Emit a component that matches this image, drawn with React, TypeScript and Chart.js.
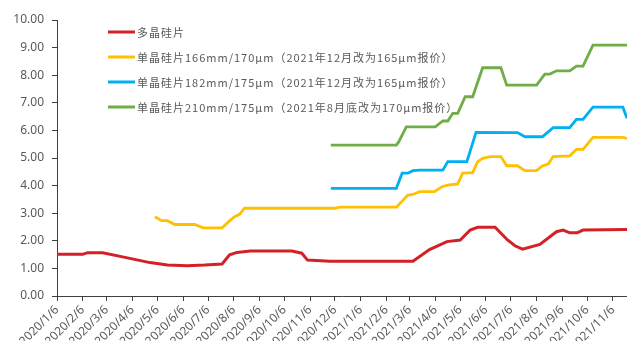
import { useEffect, useRef } from 'react';
import { Chart, registerables } from 'chart.js';

Chart.register(...registerables);

// Monthly tick labels on the date axis
const tickLabels = [
  '2020/1/6', '2020/2/6', '2020/3/6', '2020/4/6', '2020/5/6', '2020/6/6', '2020/7/6', '2020/8/6',
  '2020/9/6', '2020/10/6', '2020/11/6', '2020/12/6', '2021/1/6', '2021/2/6', '2021/3/6', '2021/4/6',
  '2021/5/6', '2021/6/6', '2021/7/6', '2021/8/6', '2021/9/6', '2021/10/6', '2021/11/6',
];
const axisStart = '2020/1/6';
const axisEnd = '2021/11/23';

// 多晶硅片 (元/片)
const polyDates = [
  '2020/1/6', '2020/2/6', '2020/2/12', '2020/3/1', '2020/3/28', '2020/4/27', '2020/5/18', '2020/6/11',
  '2020/7/2', '2020/7/23', '2020/8/1', '2020/8/10', '2020/8/26', '2020/10/15', '2020/10/27', '2020/11/3',
  '2020/11/30', '2021/3/10', '2021/3/30', '2021/4/20', '2021/5/6', '2021/5/18', '2021/5/27', '2021/6/17',
  '2021/7/2', '2021/7/11', '2021/7/20', '2021/8/10', '2021/8/30', '2021/9/7', '2021/9/15', '2021/9/24',
  '2021/10/1', '2021/11/23',
];
const polyPrices = [
  1.51, 1.51, 1.57, 1.57, 1.40, 1.21, 1.12, 1.10,
  1.12, 1.16, 1.49, 1.58, 1.63, 1.63, 1.55, 1.30,
  1.26, 1.26, 1.68, 1.97, 2.03, 2.39, 2.49, 2.49,
  2.03, 1.82, 1.70, 1.87, 2.33, 2.39, 2.29, 2.29,
  2.39, 2.41,
];

// 单晶硅片166mm
const m166Dates = [
  '2020/5/3', '2020/5/11', '2020/5/18', '2020/5/27', '2020/6/20', '2020/6/30', '2020/7/23', '2020/8/1',
  '2020/8/7', '2020/8/13', '2020/8/19', '2020/12/6', '2020/12/12', '2021/2/18', '2021/3/4', '2021/3/10',
  '2021/3/18', '2021/4/5', '2021/4/14', '2021/4/21', '2021/5/3', '2021/5/9', '2021/5/21', '2021/5/27',
  '2021/6/2', '2021/6/11', '2021/6/24', '2021/7/1', '2021/7/14', '2021/7/23', '2021/8/6', '2021/8/13',
  '2021/8/20', '2021/8/26', '2021/9/15', '2021/9/23', '2021/10/1', '2021/10/13', '2021/11/18', '2021/11/23',
];
const m166Prices = [
  2.87, 2.73, 2.73, 2.59, 2.59, 2.47, 2.47, 2.72,
  2.87, 2.96, 3.18, 3.18, 3.22, 3.22, 3.66, 3.68,
  3.78, 3.78, 3.96, 4.02, 4.06, 4.45, 4.47, 4.87,
  4.99, 5.05, 5.05, 4.72, 4.72, 4.54, 4.54, 4.71,
  4.78, 5.05, 5.08, 5.31, 5.31, 5.75, 5.75, 5.71,
];

// 单晶硅片182mm
const m182Dates = [
  '2020/12/1', '2021/2/18', '2021/2/25', '2021/3/4', '2021/3/10', '2021/3/18', '2021/4/15', '2021/4/21',
  '2021/5/14', '2021/5/25', '2021/7/14', '2021/7/23', '2021/8/13', '2021/8/26', '2021/9/15', '2021/9/23',
  '2021/10/1', '2021/10/13', '2021/11/18', '2021/11/23',
];
const m182Prices = [
  3.90, 3.90, 4.45, 4.45, 4.54, 4.56, 4.56, 4.87,
  4.87, 5.93, 5.92, 5.77, 5.77, 6.10, 6.10, 6.40,
  6.40, 6.84, 6.84, 6.44,
];

// 单晶硅片210mm
const m210Dates = [
  '2020/12/1', '2021/2/18', '2021/2/21', '2021/3/2', '2021/4/6', '2021/4/15', '2021/4/21', '2021/4/27',
  '2021/5/3', '2021/5/12', '2021/5/21', '2021/6/2', '2021/6/24', '2021/7/1', '2021/8/6', '2021/8/16',
  '2021/8/22', '2021/8/30', '2021/9/15', '2021/9/23', '2021/10/1', '2021/10/13', '2021/11/23',
];
const m210Prices = [
  5.47, 5.47, 5.59, 6.13, 6.13, 6.34, 6.34, 6.62,
  6.62, 7.22, 7.22, 8.27, 8.27, 7.64, 7.64, 8.04,
  8.04, 8.16, 8.16, 8.33, 8.33, 9.09, 9.09,
];

const seriesNames = [
  '多晶硅片',
  '单晶硅片166mm/170μm（2021年12月改为165μm报价）',
  '单晶硅片182mm/175μm（2021年12月改为165μm报价）',
  '单晶硅片210mm/175μm（2021年8月底改为170μm报价）',
];
const seriesColors = ['#d42027', '#ffc000', '#00b0f0', '#70ad47'];

const yMin = 0;
const yMax = 10;

const DAY = 86400000;
function toUtc(s: string) {
  const [y, m, d] = s.split('/').map(Number);
  return Date.UTC(y, m - 1, d);
}
const origin = toUtc(axisStart);
function dayOf(s: string) {
  return Math.round((toUtc(s) - origin) / DAY);
}
function points(dates: string[], values: number[]) {
  return dates.map((d, i) => ({ x: dayOf(d), y: values[i] }));
}

const textColor = '#595959';
const axisColor = '#404040';
const tickFont = { family: '"Noto Sans", sans-serif', size: 12 };

// Legend drawn inside the plot, top-left
const insetLegend = {
  id: 'insetLegend',
  afterDraw(chart: any) {
    const { ctx } = chart;
    ctx.save();
    ctx.font = '11px "Noto Sans CJK SC", sans-serif';
    ctx.textBaseline = 'middle';
    ctx.textAlign = 'left';
    if ('letterSpacing' in ctx) ctx.letterSpacing = '1px';
    chart.data.datasets.forEach((ds: any, i: number) => {
      const y = 32 + i * 25;
      ctx.strokeStyle = ds.borderColor;
      ctx.lineWidth = 3;
      ctx.beginPath();
      ctx.moveTo(108, y);
      ctx.lineTo(135, y);
      ctx.stroke();
      ctx.fillStyle = textColor;
      ctx.fillText(ds.label, 137, y + 0.5);
    });
    ctx.restore();
  },
};

export default function App() {
  const canvasRef = useRef<HTMLCanvasElement | null>(null);

  useEffect(() => {
    const canvas = canvasRef.current;
    if (!canvas) return;
    const series = [
      points(polyDates, polyPrices),
      points(m166Dates, m166Prices),
      points(m182Dates, m182Prices),
      points(m210Dates, m210Prices),
    ];
    const tickValues = tickLabels.map(dayOf);

    const chart = new Chart(canvas, {
      type: 'line',
      data: {
        datasets: series.map((data, i) => ({
          label: seriesNames[i],
          data,
          borderColor: seriesColors[i],
          backgroundColor: seriesColors[i],
          borderWidth: i === 0 ? 3 : 2.8,
          pointRadius: 0,
          tension: 0,
          fill: false,
        })),
      },
      options: {
        animation: false,
        responsive: false,
        maintainAspectRatio: false,
        events: [],
        layout: { padding: { top: 20, right: 0, bottom: 0, left: 0 } },
        plugins: {
          legend: { display: false },
          tooltip: { enabled: false },
        },
        scales: {
          x: {
            type: 'linear',
            min: dayOf(axisStart),
            max: dayOf(axisEnd),
            afterBuildTicks: (scale: any) => {
              scale.ticks = tickValues.map((v) => ({ value: v }));
            },
            afterFit: (scale: any) => {
              scale.height = 74;
            },
            ticks: {
              autoSkip: false,
              minRotation: 45,
              maxRotation: 45,
              padding: 2,
              color: textColor,
              font: tickFont,
              callback: (v: any) => {
                const idx = tickValues.indexOf(Number(v));
                return idx >= 0 ? tickLabels[idx] : '';
              },
            },
            grid: {
              display: true,
              drawOnChartArea: false,
              drawTicks: true,
              tickLength: 5,
              color: axisColor,
            },
            border: { display: true, color: axisColor, width: 1 },
          },
          y: {
            min: yMin,
            max: yMax,
            afterFit: (scale: any) => {
              scale.width = 57;
            },
            ticks: {
              stepSize: 1,
              padding: 8,
              color: textColor,
              font: tickFont,
              callback: (v: any) => Number(v).toFixed(2),
            },
            grid: {
              display: true,
              drawOnChartArea: false,
              drawTicks: true,
              tickLength: 5,
              color: axisColor,
            },
            border: { display: true, color: axisColor, width: 1 },
          },
        },
      },
      plugins: [insetLegend],
    });
    return () => chart.destroy();
  }, []);

  return (
    <div
      style={{
        position: 'fixed',
        left: 0,
        top: 0,
        width: 627,
        height: 341,
        overflow: 'hidden',
        background: '#ffffff',
      }}
    >
      <canvas ref={canvasRef} width={627} height={370} style={{ display: 'block', width: 627, height: 370 }} />
    </div>
  );
}
